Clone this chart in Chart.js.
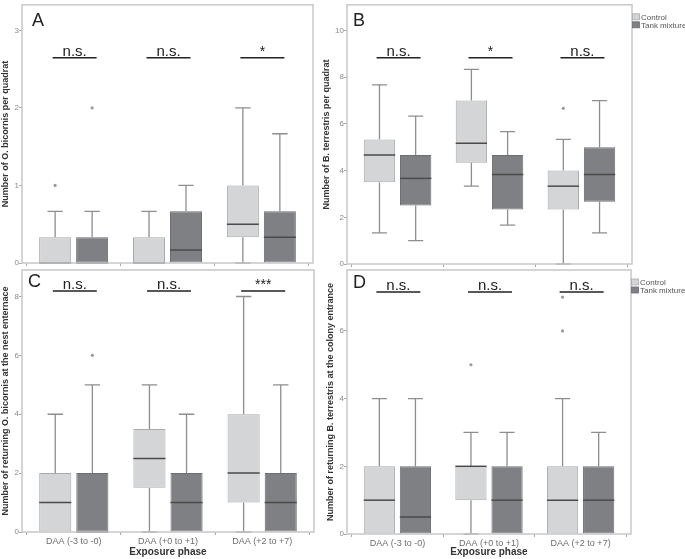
<!DOCTYPE html>
<html>
<head>
<meta charset="utf-8">
<script src="https://cdn.jsdelivr.net/npm/chart.js@4.4.1/dist/chart.umd.min.js"></script>
<style>
  html, body { margin: 0; padding: 0; background: #fff; }
  #wrap { position: relative; width: 685px; height: 559px; overflow: hidden; }
  canvas { position: absolute; }
</style>
</head>
<body>
<div id="wrap">
  <canvas id="chartA" width="320" height="275" style="left:0;top:0"></canvas>
  <canvas id="chartB" width="367" height="275" style="left:318px;top:0"></canvas>
  <canvas id="chartC" width="320" height="294" style="left:0;top:265px"></canvas>
  <canvas id="chartD" width="367" height="294" style="left:318px;top:265px"></canvas>
</div>
<script>
const categories = ['DAA (-3 to -0)', 'DAA (+0 to +1)', 'DAA (+2 to +7)'];
const seriesNames = ['Control', 'Tank mixture'];

// each box: [lower whisker, q1, median, q3, upper whisker]
const aControl = [[0, 0, 0, 0.333, 0.667], [0, 0, 0, 0.333, 0.667], [0, 0.333, 0.5, 1, 2]];
const aTank = [[0, 0, 0, 0.333, 0.667], [0, 0, 0.167, 0.667, 1], [0, 0, 0.333, 0.667, 1.667]];
const aControlOut = [[1], [], []];
const aTankOut = [[2], [], []];
const aSig = ['n.s.', 'n.s.', '*'];
const aTicks = [0, 1, 2, 3];

const bControl = [[1.333, 3.5, 4.667, 5.333, 7.667], [3.333, 4.333, 5.167, 7, 8.333], [0, 2.333, 3.333, 4, 5.333]];
const bTank = [[1, 2.5, 3.667, 4.667, 6.333], [1.667, 2.333, 3.833, 4.667, 5.667], [1.333, 2.667, 3.833, 5, 7]];
const bControlOut = [[], [], [6.667]];
const bTankOut = [[], [], []];
const bSig = ['n.s.', '*', 'n.s.'];
const bTicks = [0, 2, 4, 6, 8, 10];

const cControl = [[0, 0, 1, 2, 4], [0, 1.5, 2.5, 3.5, 5], [0, 1, 2, 4, 8]];
const cTank = [[0, 0, 0, 2, 5], [0, 0, 1, 2, 4], [0, 0, 1, 2, 5]];
const cControlOut = [[], [], []];
const cTankOut = [[6], [], []];
const cSig = ['n.s.', 'n.s.', '***'];
const cTicks = [0, 2, 4, 6, 8];

const dControl = [[0, 0, 1, 2, 4], [0, 1, 2, 2, 3], [0, 0, 1, 2, 4]];
const dTank = [[0, 0, 0.5, 2, 4], [0, 0, 1, 2, 3], [0, 0, 1, 2, 3]];
const dControlOut = [[], [5], [6, 7]];
const dTankOut = [[], [], []];
const dSig = ['n.s.', 'n.s.', 'n.s.'];
const dTicks = [0, 2, 4, 6];

const FONT = "'Liberation Sans', Arial, sans-serif";
const FILLS = ['#d4d5d7', '#7f8083'];
const EDGES = ['#a9aaac', '#6d6e71'];

const boxExtras = {
    id: 'boxExtras',
    beforeDatasetsDraw(chart, args, opts) {
        const ctx = chart.ctx;
        const y = chart.scales.y;
        ctx.save();
        ctx.strokeStyle = '#8e8e8e';
        ctx.lineWidth = 1.3;
        opts.stats.forEach((series, i) => {
            const meta = chart.getDatasetMeta(i);
            series.forEach((s, j) => {
                const bar = meta.data[j];
                const half = bar.width * 0.24;
                const lo = y.getPixelForValue(s[0]);
                const hi = y.getPixelForValue(s[4]);
                ctx.beginPath();
                ctx.moveTo(bar.x, y.getPixelForValue(s[3]));
                ctx.lineTo(bar.x, hi);
                ctx.moveTo(bar.x, y.getPixelForValue(s[1]));
                ctx.lineTo(bar.x, lo);
                if (s[4] > s[3]) { ctx.moveTo(bar.x - half, hi); ctx.lineTo(bar.x + half, hi); }
                if (s[0] < s[1]) { ctx.moveTo(bar.x - half, lo); ctx.lineTo(bar.x + half, lo); }
                ctx.stroke();
            });
        });
        ctx.restore();
    },
    afterDatasetsDraw(chart, args, opts) {
        const ctx = chart.ctx;
        const y = chart.scales.y;
        const x = chart.scales.x;
        const area = chart.chartArea;
        ctx.save();

        // medians and outliers
        opts.stats.forEach((series, i) => {
            const meta = chart.getDatasetMeta(i);
            series.forEach((s, j) => {
                const bar = meta.data[j];
                const my = y.getPixelForValue(s[2]);
                ctx.strokeStyle = '#4a4a4a';
                ctx.lineWidth = 1.5;
                ctx.beginPath();
                ctx.moveTo(bar.x - bar.width / 2, my);
                ctx.lineTo(bar.x + bar.width / 2, my);
                ctx.stroke();
                ctx.fillStyle = '#9a9a9a';
                opts.outliers[i][j].forEach(v => {
                    ctx.beginPath();
                    ctx.arc(bar.x, y.getPixelForValue(v), 1.6, 0, Math.PI * 2);
                    ctx.fill();
                });
            });
        });

        // frame
        ctx.strokeStyle = '#c8c8c8';
        ctx.lineWidth = 1.5;
        ctx.strokeRect(area.left, area.top, area.right - area.left, area.bottom - area.top);

        // significance bars
        const sy = area.top + opts.sigOffset;
        opts.sig.forEach((label, j) => {
            const cx = x.getPixelForValue(j) + 1;
            ctx.strokeStyle = '#222';
            ctx.lineWidth = 1.5;
            ctx.beginPath();
            ctx.moveTo(cx - 22, sy);
            ctx.lineTo(cx + 22, sy);
            ctx.stroke();
            ctx.fillStyle = '#222';
            ctx.textAlign = 'center';
            ctx.textBaseline = 'alphabetic';
            ctx.font = (label === 'n.s.' ? '15px ' : '14px ') + FONT;
            ctx.fillText(label, cx, sy - 2);
        });

        // panel letter
        ctx.fillStyle = '#222';
        ctx.textAlign = 'left';
        ctx.font = '18px ' + FONT;
        ctx.fillText(opts.letter, area.left + opts.letterOff[0], area.top + opts.letterOff[1]);

        // legend
        if (opts.legend) {
            ctx.font = '8px ' + FONT;
            ctx.textBaseline = 'middle';
            seriesNames.forEach((name, k) => {
                const ly = area.top + 9 + k * 8;
                ctx.fillStyle = FILLS[k];
                ctx.fillRect(area.right + 0.5, ly, 7, 6);
                ctx.strokeStyle = EDGES[k];
                ctx.lineWidth = 0.8;
                ctx.strokeRect(area.right + 0.5, ly, 7, 6);
                ctx.fillStyle = '#555';
                ctx.fillText(name, area.right + 9, ly + 3.5);
            });
        }
        ctx.restore();
    }
};

function makePanel(id, p) {
    const stats = [p.control, p.tank];
    new Chart(document.getElementById(id), {
        type: 'bar',
        data: {
            datasets: stats.map((s, i) => ({
                label: seriesNames[i],
                data: s.map((b, j) => ({ x: j, y: [b[1], b[3]] })),
                backgroundColor: FILLS[i],
                borderColor: EDGES[i],
                borderWidth: 1,
                borderSkipped: false,
                categoryPercentage: 0.788,
                barPercentage: 0.865
            }))
        },
        options: {
            responsive: false,
            animation: false,
            layout: { padding: p.padding },
            plugins: {
                legend: { display: false },
                tooltip: { enabled: false },
                boxExtras: {
                    stats: stats,
                    outliers: [p.controlOut, p.tankOut],
                    sig: p.sig,
                    sigOffset: p.sigOffset,
                    letter: p.letter,
                    letterOff: p.letterOff,
                    legend: p.legend
                }
            },
            scales: {
                x: {
                    type: 'linear',
                    min: -0.55,
                    max: 2.55,
                    offset: false,
                    afterBuildTicks: s => { s.ticks = categories.map((c, j) => ({ value: j })); },
                    grid: { drawOnChartArea: false, drawTicks: true, tickLength: 3, color: '#a8a8a8' },
                    border: { display: false },
                    ticks: {
                        display: p.showX, color: '#6e6e6e', font: { size: 9, family: FONT }, padding: 1,
                        callback: v => categories[v]
                    },
                    title: {
                        display: p.showX, text: 'Exposure phase', color: '#333',
                        font: { size: 10, weight: 'bold', family: FONT }, padding: { top: 0, bottom: 1 }
                    },
                    afterFit: s => { s.height = p.xHeight; }
                },
                y: {
                    min: 0,
                    max: p.yMax,
                    afterBuildTicks: s => { s.ticks = p.ticks.map(v => ({ value: v })); },
                    afterFit: s => { s.width = p.yWidth; },
                    grid: { drawOnChartArea: false, drawTicks: true, tickLength: 3, color: '#a8a8a8' },
                    border: { display: false },
                    ticks: { color: '#8a8a8a', font: { size: 8, family: FONT }, padding: 0 },
                    title: {
                        display: true, text: p.yTitle, color: '#333',
                        font: { size: 9, weight: 'bold', family: FONT }, padding: { top: p.titlePad, bottom: 0 }
                    }
                }
            }
        },
        plugins: [boxExtras]
    });
}

makePanel('chartA', {
    control: aControl, tank: aTank, controlOut: aControlOut, tankOut: aTankOut, sig: aSig, ticks: aTicks,
    yMax: 3.33, yTitle: 'Number of O. bicornis per quadrat', letter: 'A', letterOff: [10, 21],
    sigOffset: 53, padding: { left: 0, right: 7, top: 2, bottom: 0 }, yWidth: 22, xHeight: 12,
    titlePad: 0, showX: false, legend: false
});
makePanel('chartB', {
    control: bControl, tank: bTank, controlOut: bControlOut, tankOut: bTankOut, sig: bSig, ticks: bTicks,
    yMax: 11.1, yTitle: 'Number of B. terrestris per quadrat', letter: 'B', letterOff: [6, 21],
    sigOffset: 53, padding: { left: 0, right: 53, top: 2, bottom: 0 }, yWidth: 29, xHeight: 11,
    titlePad: 3.5, showX: false, legend: true
});
makePanel('chartC', {
    control: cControl, tank: cTank, controlOut: cControlOut, tankOut: cTankOut, sig: cSig, ticks: cTicks,
    yMax: 8.9, yTitle: 'Number of returning O. bicornis at the nest enternace', letter: 'C', letterOff: [6, 17],
    sigOffset: 21, padding: { left: 0, right: 6, top: 5, bottom: 0 }, yWidth: 22, xHeight: 27,
    titlePad: 0.5, showX: true, legend: false
});
makePanel('chartD', {
    control: dControl, tank: dTank, controlOut: dControlOut, tankOut: dTankOut, sig: dSig, ticks: dTicks,
    yMax: 7.8, yTitle: 'Number of returning B. terrestris at the colony entrance', letter: 'D', letterOff: [6, 18],
    sigOffset: 22, padding: { left: 0, right: 54, top: 5, bottom: 0 }, yWidth: 29, xHeight: 25,
    titlePad: 7, showX: true, legend: true
});
</script>
</body>
</html>
